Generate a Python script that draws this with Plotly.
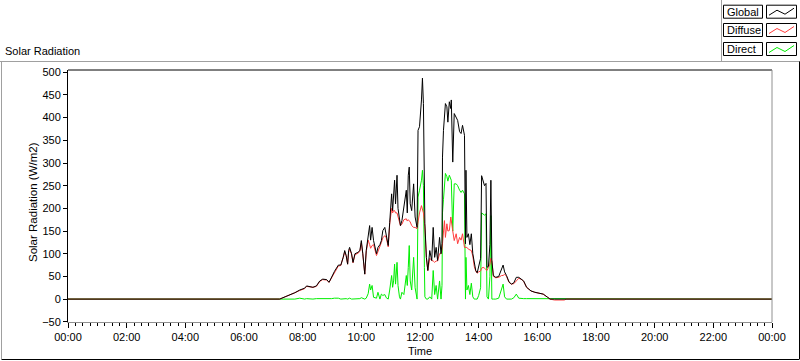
import plotly.graph_objects as go

# ---------------- data ----------------
times = ["00:00", "07:13", "07:24", "07:34", "07:44", "07:54", "08:04", "08:08", "08:14", "08:21",
         "08:28", "08:35", "08:41", "08:49", "08:54", "08:59", "09:05", "09:13", "09:18", "09:23",
         "09:26", "09:29", "09:32", "09:34", "09:36", "09:40", "09:43", "09:47", "09:53", "09:57",
         "10:00", "10:03", "10:07", "10:10", "10:14", "10:17", "10:19", "10:22", "10:25", "10:31",
         "10:34", "10:38", "10:41", "10:44", "10:48", "10:51", "10:55", "10:58", "11:02", "11:04",
         "11:06", "11:08", "11:10", "11:13", "11:15", "11:18", "11:20", "11:23", "11:27", "11:32",
         "11:34", "11:36", "11:38", "11:40", "11:43", "11:47", "11:50", "11:54", "11:56", "11:59",
         "12:03", "12:05", "12:07", "12:09", "12:10", "12:13", "12:16", "12:20", "12:24", "12:27",
         "12:30", "12:33", "12:36", "12:40", "12:43", "12:45", "12:46", "12:48", "12:50", "12:52",
         "12:55", "12:57", "13:00", "13:03", "13:04", "13:07", "13:10", "13:14", "13:17", "13:21",
         "13:24", "13:27", "13:31", "13:33", "13:34", "13:36", "13:39", "13:42", "13:45", "13:48",
         "13:51", "13:54", "13:57", "14:00", "14:04", "14:06", "14:09", "14:12", "14:15", "14:17",
         "14:20", "14:23", "14:25", "14:27", "14:30", "14:35", "14:41", "14:47", "14:50", "14:53",
         "14:57", "15:02", "15:07", "15:12", "15:17", "15:22", "15:28", "15:32", "15:38", "15:47",
         "15:55", "16:05", "16:12", "16:21", "16:26", "16:35", "16:55", "17:00", "24:00"]

global_vals = [0, 0, 5, 9, 14, 20, 24, 29, 27, 26,
               29, 40, 44, 43, 37, 48, 61, 75, 75, 92,
               107, 96, 77, 107, 114, 100, 81, 100, 103, 107,
               129, 100, 55, 107, 144, 162, 130, 158, 129, 100,
               114, 120, 129, 151, 158, 140, 118, 169, 232, 195,
               240, 262, 210, 273, 200, 181, 162, 173, 200, 240,
               190, 273, 291, 210, 195, 254, 181, 158, 372, 380,
               439, 487, 431, 225, 166, 92, 63, 107, 85, 158,
               92, 114, 85, 136, 100, 122, 313, 372, 417, 431,
               424, 390, 435, 420, 439, 302, 409, 402, 394, 369,
               365, 383, 361, 122, 284, 136, 144, 120, 144, 100,
               75, 63, 58, 70, 90, 272, 262, 250, 255, 70,
               72, 120, 262, 85, 52, 48, 50, 66, 75, 60,
               52, 38, 33, 36, 48, 48, 44, 40, 26, 18,
               15, 12, 11, 4, 0, 0, 0, 0, 0]

diffuse_vals = [0, 0, 5, 9, 14, 19, 23, 28, 27, 26,
                28, 39, 43, 42, 37, 47, 60, 73, 74, 90,
                104, 95, 77, 103, 110, 99, 80, 98, 101, 105,
                124, 99, 55, 104, 130, 120, 112, 118, 120, 96,
                104, 118, 125, 135, 140, 135, 115, 165, 200, 190,
                195, 195, 190, 190, 180, 170, 162, 165, 175, 177,
                172, 175, 173, 170, 162, 158, 158, 155, 170, 190,
                206, 200, 190, 170, 160, 92, 63, 90, 85, 84,
                81, 84, 84, 100, 100, 110, 120, 150, 173, 136,
                166, 150, 151, 181, 175, 150, 129, 144, 122, 136,
                130, 144, 114, 114, 114, 114, 110, 108, 107, 95,
                72, 62, 57, 60, 62, 68, 70, 68, 66, 63,
                70, 77, 90, 85, 50, 47, 48, 52, 52, 55,
                50, 37, 33, 34, 40, 46, 43, 39, 26, 18,
                15, 12, 11, 4, 0, -2, -2, 0, 0]

direct_vals = [0, 0, 0, 1, 0, 2, 0, 1, 0, 0,
               1, 1, 0, 1, 0, 1, 2, 2, 0, 1,
               2, 1, 0, 1, 2, 0, 0, 1, 1, 1,
               3, 1, 0, 2, 12, 33, 20, 30, 4, 2,
               15, 0, 11, 8, 10, 3, 0, 20, 52, 26,
               40, 77, 33, 81, 30, 5, 0, 15, 10, 52,
               30, 70, 118, 40, 20, 92, 25, 0, 225, 240,
               262, 284, 250, 70, 5, 0, 0, 5, 0, 63,
               10, 30, 0, 40, 0, 30, 190, 220, 250, 277,
               270, 260, 273, 262, 262, 150, 254, 254, 250, 240,
               235, 240, 232, 0, 92, 20, 30, 10, 35, 5,
               0, 0, 0, 8, 25, 190, 188, 185, 188, 5,
               0, 50, 184, 0, 0, 0, 2, 20, 33, 5,
               0, 0, 0, 3, 11, 2, 1, 1, 1, 1,
               1, 1, 1, 0, 0, 0, 0, 0, 0]

series_names = ["Global", "Diffuse", "Direct"]
series_colors = ["#000000", "#ff3c3c", "#00ee00"]

y_title = "Solar Radiation (W/m2)"
x_title = "Time"
chart_title = "Solar Radiation"


def ts(t):
    if t == "24:00":
        return "2024-01-02 00:00"
    return "2024-01-01 " + t


x = [ts(t) for t in times]

fig = go.Figure()
# draw Direct first, then Diffuse, Global on top
for name, vals, col in [(series_names[2], direct_vals, series_colors[2]),
                        (series_names[1], diffuse_vals, series_colors[1]),
                        (series_names[0], global_vals, series_colors[0])]:
    fig.add_trace(go.Scatter(x=x, y=vals, mode="lines", name=name,
                             line=dict(color=col, width=1), showlegend=False,
                             hoverinfo="skip"))

# ---------------- layout geometry ----------------
L, R, T, B = 68, 772, 70, 322
W, H = 800, 361


def px(xp):
    return (xp - L) / (R - L)


def py(yp):
    return (B - yp) / (B - T)


FONT = "Liberation Sans, Arial, sans-serif"

shapes = []


def line(x0, y0, x1, y1, color, width=1):
    shapes.append(dict(type="line", xref="paper", yref="paper",
                       x0=px(x0), y0=py(y0), x1=px(x1), y1=py(y1),
                       line=dict(color=color, width=width), layer="above"))


# plot area frame: top (dark), right (gray)
line(L, T, R, T, "#000000")
line(R, T, R, B, "#909090")
# outer chart frame
line(0, 61.5, W, 61.5, "#a0a0a0")
line(721.5, 0, 721.5, 61.5, "#a0a0a0")
line(1.5, 61.5, 1.5, 359, "#a0a0a0")
line(1.5, 359.5, 799, 359.5, "#000000")
line(799.5, 61.5, 799.5, 359.5, "#000000")

annotations = []
# legend boxes
legend_rows = [11.7, 30, 49]
for name, col, yc in zip(series_names, series_colors, legend_rows):
    shapes.append(dict(type="rect", xref="paper", yref="paper",
                       x0=px(723.5), x1=px(762.5), y0=py(yc - 6.5), y1=py(yc + 6.5),
                       line=dict(color="#000000", width=1), fillcolor="white"))
    shapes.append(dict(type="rect", xref="paper", yref="paper",
                       x0=px(766.5), x1=px(796.5), y0=py(yc - 6.5), y1=py(yc + 6.5),
                       line=dict(color="#000000", width=1), fillcolor="white"))
    pts = [(769, yc + 3.5), (777, yc - 1.5), (785, yc + 2.5), (794, yc - 3.5)]
    path = "M " + " L ".join(f"{px(a):.5f},{py(b):.5f}" for a, b in pts)
    shapes.append(dict(type="path", xref="paper", yref="paper", path=path,
                       line=dict(color=col, width=1)))
    annotations.append(dict(xref="paper", yref="paper", x=px(725), y=py(yc),
                            xanchor="left", yanchor="middle", showarrow=False,
                            text=name, font=dict(family=FONT, size=11, color="black")))

annotations.append(dict(xref="paper", yref="paper", x=px(3), y=py(51),
                        xanchor="left", yanchor="middle", showarrow=False,
                        text=chart_title, font=dict(family=FONT, size=11, color="black")))
annotations.append(dict(xref="paper", yref="paper", x=px(420), y=py(351),
                        xanchor="center", yanchor="middle", showarrow=False,
                        text=x_title, font=dict(family=FONT, size=11, color="black")))
annotations.append(dict(xref="paper", yref="paper", x=px(33), y=py(202),
                        xanchor="center", yanchor="middle", showarrow=False, textangle=-90,
                        text=y_title, font=dict(family=FONT, size=11.5, color="black")))

fig.update_layout(
    width=W, height=H, autosize=False,
    margin=dict(l=L, r=W - R, t=T, b=H - B, pad=0),
    paper_bgcolor="white", plot_bgcolor="white",
    font=dict(family=FONT, size=11, color="black"),
    shapes=shapes, annotations=annotations, showlegend=False,
    xaxis=dict(type="date", range=["2024-01-01 00:00", "2024-01-02 00:00"],
               tickformat="%H:%M", dtick=7200000, tick0="2024-01-01 00:00",
               ticks="outside", ticklen=5, tickcolor="black", tickwidth=1,
               showline=True, linecolor="#909090", linewidth=1,
               showgrid=False, zeroline=False, fixedrange=True,
               tickfont=dict(family=FONT, size=11, color="black"),
               minor=dict(dtick=900000, ticks="outside", ticklen=3,
                          tickcolor="black", showgrid=False)),
    yaxis=dict(range=[-50.5, 505], dtick=50, tick0=0,
               ticks="outside", ticklen=4, tickcolor="black", tickwidth=1,
               showline=True, linecolor="black", linewidth=1,
               showgrid=False, zeroline=False, fixedrange=True,
               tickfont=dict(family=FONT, size=11, color="black")),
)

fig.write_html("out.html",
               config={"displayModeBar": False, "staticPlot": True},
               post_script="document.body.style.margin='0';document.body.style.overflow='hidden';")
